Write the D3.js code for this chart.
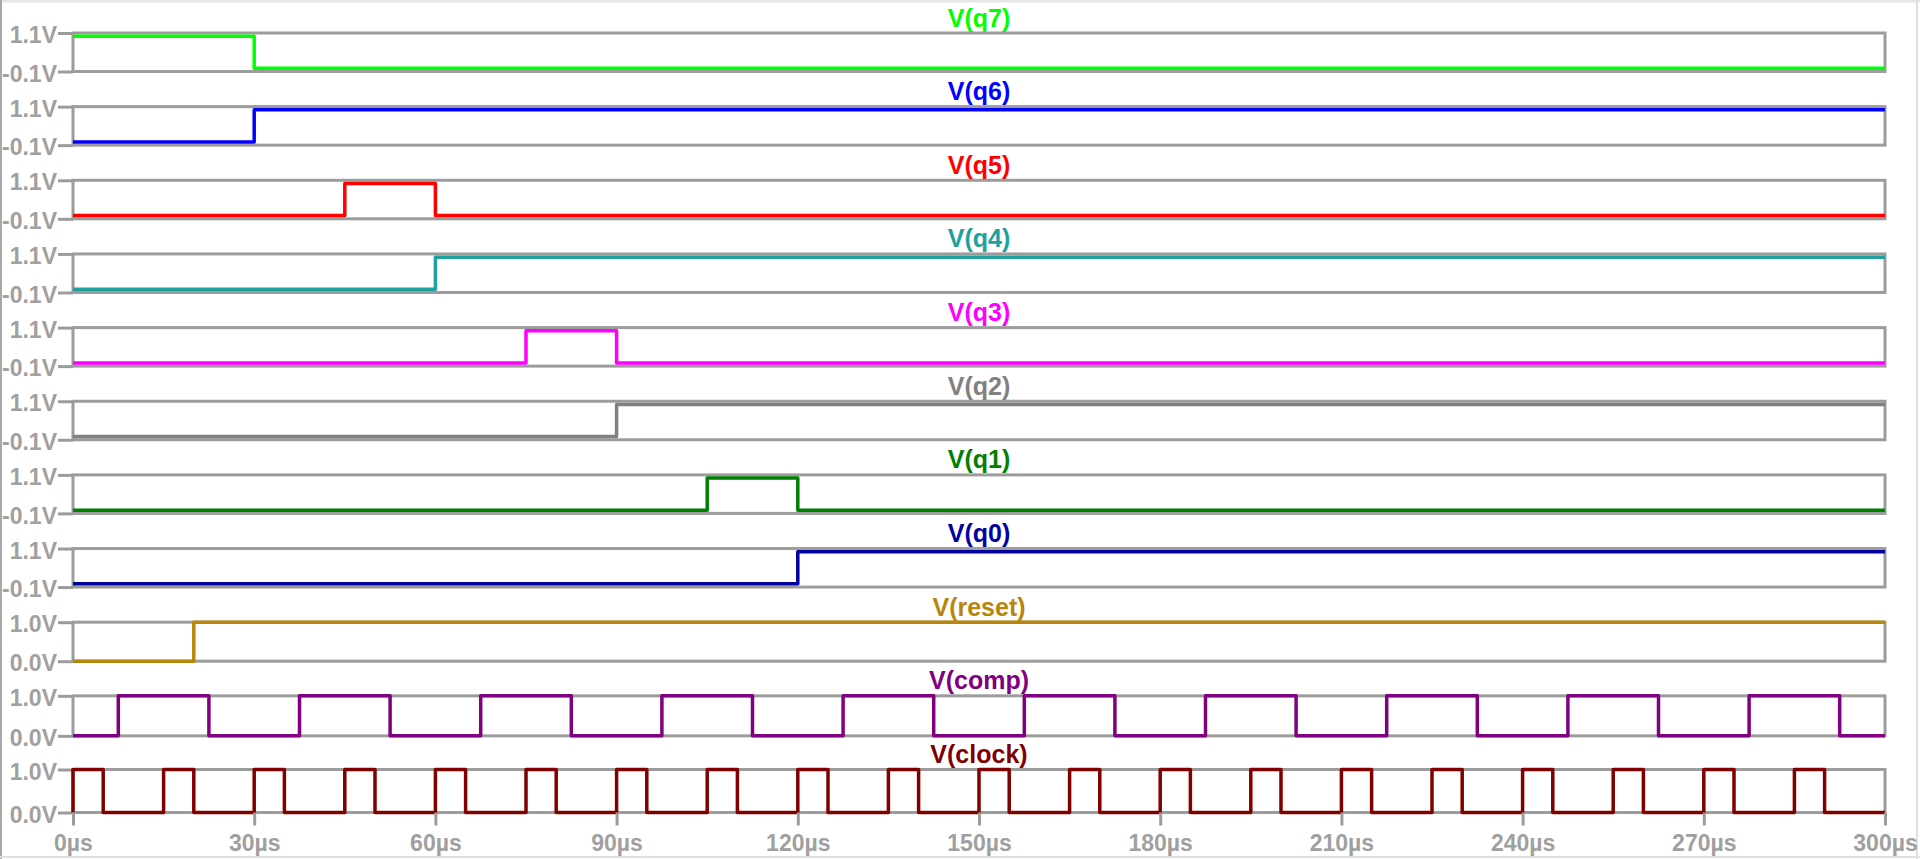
<!DOCTYPE html>
<html>
<head>
<meta charset="utf-8">
<script src="https://cdn.jsdelivr.net/npm/d3@7"></script>
<style>
  html, body { margin: 0; padding: 0; background: #fff; }
  svg { display: block; }
</style>
</head>
<body>
<svg id="chart" width="1920" height="859"></svg>
<script>
// ---------- DATA ----------
const seriesNames = ["V(q7)", "V(q6)", "V(q5)", "V(q4)", "V(q3)", "V(q2)", "V(q1)", "V(q0)", "V(reset)", "V(comp)", "V(clock)"];

const q7Times = [0, 30, 300];
const q7Levels = [1, 0, 0];
const q6Times = [0, 30, 300];
const q6Levels = [0, 1, 1];
const q5Times = [0, 45, 60, 300];
const q5Levels = [0, 1, 0, 0];
const q4Times = [0, 60, 300];
const q4Levels = [0, 1, 1];
const q3Times = [0, 75, 90, 300];
const q3Levels = [0, 1, 0, 0];
const q2Times = [0, 90, 300];
const q2Levels = [0, 1, 1];
const q1Times = [0, 105, 120, 300];
const q1Levels = [0, 1, 0, 0];
const q0Times = [0, 120, 300];
const q0Levels = [0, 1, 1];
const resetTimes = [0, 20, 300];
const resetLevels = [0, 1, 1];
const compTimes = [0, 7.5, 22.5, 37.5, 52.5, 67.5, 82.5, 97.5, 112.5, 127.5, 142.5, 157.5, 172.5, 187.5, 202.5, 217.5, 232.5, 247.5, 262.5, 277.5, 292.5, 300];
const compLevels = [0, 1, 0, 1, 0, 1, 0, 1, 0, 1, 0, 1, 0, 1, 0, 1, 0, 1, 0, 1, 0, 0];
const clockTimes = [0, 0, 5, 15, 20, 30, 35, 45, 50, 60, 65, 75, 80, 90, 95, 105, 110, 120, 125, 135, 140, 150, 155, 165, 170, 180, 185, 195, 200, 210, 215, 225, 230, 240, 245, 255, 260, 270, 275, 285, 290, 300];
const clockLevels = [0, 1, 0, 1, 0, 1, 0, 1, 0, 1, 0, 1, 0, 1, 0, 1, 0, 1, 0, 1, 0, 1, 0, 1, 0, 1, 0, 1, 0, 1, 0, 1, 0, 1, 0, 1, 0, 1, 0, 1, 0, 0];

const qTickValues = [-0.1, 1.1];
const qTickLabels = ["-0.1V", "1.1V"];
const logicTickValues = [0, 1];
const logicTickLabels = ["0.0V", "1.0V"];
const xTickValues = [0, 30, 60, 90, 120, 150, 180, 210, 240, 270, 300];
const xTickLabels = ["0µs", "30µs", "60µs", "90µs", "120µs", "150µs", "180µs", "210µs", "240µs", "270µs", "300µs"];

const seriesTimes = [q7Times, q6Times, q5Times, q4Times, q3Times, q2Times, q1Times, q0Times, resetTimes, compTimes, clockTimes];
const seriesLevels = [q7Levels, q6Levels, q5Levels, q4Levels, q3Levels, q2Levels, q1Levels, q0Levels, resetLevels, compLevels, clockLevels];

// ---------- STYLE / LAYOUT ----------
const colors = ["#00ff00", "#0000ff", "#ff0000", "#20a0a0", "#ff00ff", "#808080", "#008000", "#0000a0", "#b8860b", "#800080", "#800000"];
const frameColor = "#9c9c9c";
const textColor = "#a0a0a0";
const fontFam = "'Liberation Sans', Arial, sans-serif";

const W = 1920, H = 859;
const xLeft = 73, xRight = 1885;
const panelTop0 = 33, panelPitch = 73.65;
const panelHeights = [38.5, 38.5, 38.5, 38.5, 38.5, 38.5, 38.5, 38.5, 39, 40, 43];

const svg = d3.select("#chart");
svg.append("rect").attr("width", W).attr("height", H).attr("fill", "#fff");

// window frame
svg.append("line").attr("x1", 0).attr("x2", W).attr("y1", 1).attr("y2", 1).attr("stroke", "#e6e6e6").attr("stroke-width", 3);
svg.append("line").attr("x1", 1).attr("x2", 1).attr("y1", 0).attr("y2", H).attr("stroke", "#a8a8a8").attr("stroke-width", 2);
svg.append("line").attr("x1", 1917).attr("x2", 1917).attr("y1", 0).attr("y2", H).attr("stroke", "#e0e0e0").attr("stroke-width", 2);
svg.append("line").attr("x1", 0).attr("x2", W).attr("y1", 857).attr("y2", 857).attr("stroke", "#e0e0e0").attr("stroke-width", 2);

const x = d3.scaleLinear().domain([0, 300]).range([xLeft, xRight]);

seriesNames.forEach((name, i) => {
  const top = panelTop0 + panelPitch * i;
  const bottom = top + panelHeights[i];
  const isQ = i < 8;
  const y = d3.scaleLinear().domain(isQ ? [-0.1, 1.1] : [0, 1]).range([bottom, top]);
  const g = svg.append("g");

  // left axis with ticks
  const tv = isQ ? qTickValues : logicTickValues;
  const tl = isQ ? qTickLabels : logicTickLabels;
  const ax = g.append("g").attr("transform", `translate(${xLeft},0)`)
    .call(d3.axisLeft(y).tickValues(tv).tickSize(15).tickPadding(1).tickFormat((d, k) => tl[k]));
  ax.select(".domain").remove();
  ax.selectAll("line").attr("stroke", frameColor).attr("stroke-width", 3);
  ax.selectAll("text").attr("fill", textColor).attr("font-family", fontFam)
    .attr("font-size", 23).attr("font-weight", "bold").attr("dy", "0.42em");

  // frame
  g.append("rect").attr("x", xLeft).attr("y", top).attr("width", xRight - xLeft).attr("height", bottom - top)
    .attr("fill", "none").attr("stroke", frameColor).attr("stroke-width", 3);

  // title
  g.append("text").attr("x", (xLeft + xRight) / 2).attr("y", top - 6.5)
    .attr("text-anchor", "middle").attr("fill", colors[i]).attr("font-family", fontFam)
    .attr("font-size", 25).attr("font-weight", "bold").text(name);

  // trace
  const pts = seriesTimes[i].map((t, k) => [t, seriesLevels[i][k]]);
  const line = d3.line().x(d => x(d[0])).y(d => y(d[1])).curve(d3.curveStepAfter);
  g.append("path").attr("d", line(pts)).attr("fill", "none").attr("stroke", colors[i])
    .attr("stroke-width", 3.5).attr("stroke-linejoin", "round").attr("stroke-linecap", "butt");

  if (i === seriesNames.length - 1) {
    const xa = svg.append("g").attr("transform", `translate(0,${bottom})`)
      .call(d3.axisBottom(x).tickValues(xTickValues).tickSize(13).tickPadding(9).tickFormat((d, k) => xTickLabels[k]));
    xa.select(".domain").remove();
    xa.selectAll("line").attr("stroke", frameColor).attr("stroke-width", 3);
    xa.selectAll("text").attr("fill", textColor).attr("font-family", fontFam)
      .attr("font-size", 23).attr("font-weight", "bold");
  }
});
</script>
</body>
</html>
